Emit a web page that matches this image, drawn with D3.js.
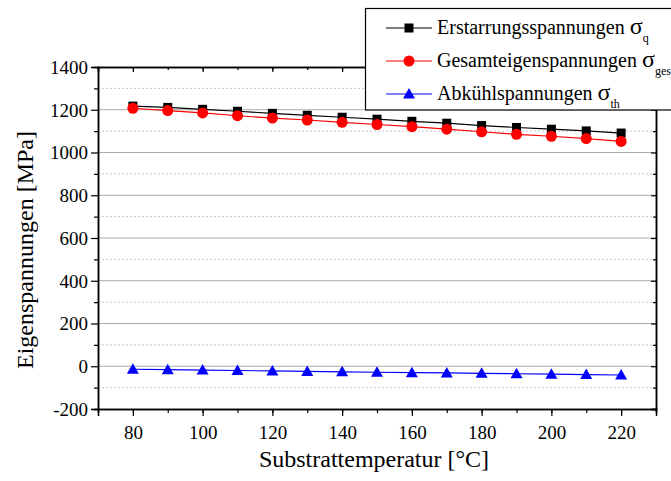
<!DOCTYPE html>
<html>
<head>
<meta charset="utf-8">
<script src="https://cdn.jsdelivr.net/npm/d3@7"></script>
<style>
  html, body { margin: 0; padding: 0; background: #fff; }
  svg { display: block; }
  text { font-family: "Liberation Serif", "Times New Roman", serif; fill: #000; }
</style>
</head>
<body>
<svg id="chart" width="671" height="481"></svg>
<script>
// Substrate temperature [°C]
const temperatures = [80, 90, 100, 110, 120, 130, 140, 150, 160, 170, 180, 190, 200, 210, 220];
// Residual stresses [MPa]
const sigmaQ   = [1217, 1211, 1202, 1193, 1183, 1174, 1165, 1156, 1146, 1137, 1126, 1117, 1109, 1101, 1091];
const sigmaGes = [1207, 1196, 1185, 1172, 1161, 1152, 1141, 1131, 1121, 1109, 1097, 1085, 1076, 1065, 1052];
const sigmaTh  = [-14, -16, -18, -20, -22, -24, -26, -28, -30, -31, -33, -35, -37, -39, -41];

const xTicks = [80, 100, 120, 140, 160, 180, 200, 220];
const yTicks = [-200, 0, 200, 400, 600, 800, 1000, 1200, 1400];

const series = [
  { name: "Erstarrungsspannungen", sub: "q",   values: sigmaQ,   color: "#000000", marker: "square" },
  { name: "Gesamteigenspannungen", sub: "ges", values: sigmaGes, color: "#ff0000", marker: "circle" },
  { name: "Abkühlspannungen",      sub: "th",  values: sigmaTh,  color: "#0000ff", marker: "triangle" }
];

const svg = d3.select("#chart");
const L = 98, R = 656, T = 67, B = 409;

const x = d3.scaleLinear().domain([70, 230]).range([L, R]);
const y = d3.scaleLinear().domain([-200, 1400]).range([B, T]);

// horizontal grid: solid at major, dotted at minor ticks
const minorY = d3.range(-100, 1400, 200);
svg.append("g").selectAll("line").data(minorY).join("line")
  .attr("x1", L).attr("x2", R)
  .attr("y1", d => y(d)).attr("y2", d => y(d))
  .attr("stroke", "#c8c8c8").attr("stroke-width", 1).attr("stroke-dasharray", "2,2");
svg.append("g").selectAll("line").data(yTicks.filter(d => d > -200 && d < 1400)).join("line")
  .attr("x1", L).attr("x2", R)
  .attr("y1", d => y(d)).attr("y2", d => y(d))
  .attr("stroke", "#aaaaaa").attr("stroke-width", 1);

// axes (plain hyphen for negatives)
const fmt = d => String(d);
const axB = svg.append("g").attr("transform", `translate(0,${B})`)
  .call(d3.axisBottom(x).tickValues(xTicks).tickFormat(fmt).tickSize(7).tickPadding(10));
const axBm = svg.append("g").attr("transform", `translate(0,${B})`)
  .call(d3.axisBottom(x).tickValues(d3.range(70, 231, 10)).tickFormat("").tickSize(4));
const axL = svg.append("g").attr("transform", `translate(${L},0)`)
  .call(d3.axisLeft(y).tickValues(yTicks).tickFormat(fmt).tickSize(7).tickPadding(3));
const axLm = svg.append("g").attr("transform", `translate(${L},0)`)
  .call(d3.axisLeft(y).tickValues(minorY).tickFormat("").tickSize(4));
const axT = svg.append("g").attr("transform", `translate(0,${T})`)
  .call(d3.axisBottom(x).tickValues(xTicks).tickFormat("").tickSize(5));
const axTm = svg.append("g").attr("transform", `translate(0,${T})`)
  .call(d3.axisBottom(x).tickValues(d3.range(70, 231, 10)).tickFormat("").tickSize(3));
const axR = svg.append("g").attr("transform", `translate(${R},0)`)
  .call(d3.axisLeft(y).tickValues(yTicks).tickFormat("").tickSize(5));
const axRm = svg.append("g").attr("transform", `translate(${R},0)`)
  .call(d3.axisLeft(y).tickValues(minorY).tickFormat("").tickSize(3));

[axB, axBm, axL, axLm, axT, axTm, axR, axRm].forEach(a => {
  a.selectAll(".domain").attr("stroke", "#000").attr("stroke-width", 1.5);
  a.selectAll(".tick line").attr("stroke", "#000").attr("stroke-width", 1.2);
  a.selectAll("text").style("font-family", "Liberation Serif").style("font-size", "19px").attr("fill", "#000");
});
axB.selectAll("text").attr("dy", "0.7em");
axL.selectAll("text").attr("dy", "0.34em");

// axis titles
svg.append("text").attr("x", (L + R) / 2 - 3).attr("y", 467)
  .attr("text-anchor", "middle").style("font-size", "24px")
  .text("Substrattemperatur [°C]");
svg.append("text").attr("transform", `translate(33,250) rotate(-90)`)
  .attr("text-anchor", "middle").style("font-size", "24px")
  .text("Eigenspannungen [MPa]");

// markers
function drawMarker(g, kind, cx, cy, color) {
  if (kind === "square") {
    g.append("rect").attr("x", cx - 4.5).attr("y", cy - 4.5).attr("width", 9).attr("height", 9).attr("fill", color);
  } else if (kind === "circle") {
    g.append("circle").attr("cx", cx).attr("cy", cy).attr("r", 5.5).attr("fill", color);
  } else {
    g.append("path").attr("d", `M${cx},${cy - 6} L${cx + 6},${cy + 4.5} L${cx - 6},${cy + 4.5} Z`).attr("fill", color);
  }
}

const line = d3.line().x((d, i) => x(temperatures[i])).y(d => y(d));
series.forEach(s => {
  const g = svg.append("g");
  g.append("path").attr("d", line(s.values)).attr("fill", "none")
    .attr("stroke", s.color).attr("stroke-width", 1.2);
  s.values.forEach((v, i) => drawMarker(g, s.marker, x(temperatures[i]), y(v), s.color));
});

// legend
const lg = svg.append("g");
lg.append("rect").attr("x", 365.5).attr("y", 8.5).attr("width", 310).attr("height", 101.5)
  .attr("fill", "#fff").attr("stroke", "#000").attr("stroke-width", 1.2);
const rowY = [28, 61, 94];
series.forEach((s, i) => {
  const yy = rowY[i];
  lg.append("line").attr("x1", 386).attr("x2", 432).attr("y1", yy).attr("y2", yy)
    .attr("stroke", s.color).attr("stroke-width", 1.2);
  drawMarker(lg, s.marker, 409, yy, s.color);
  const t = lg.append("text").attr("x", 437).attr("y", yy + 6).style("font-size", "20px");
  t.append("tspan").text(s.name + " ");
  t.append("tspan").style("font-size", "24px").text("σ");
  t.append("tspan").attr("dy", 8).style("font-size", "12px").text(s.sub);
});
</script>
</body>
</html>
